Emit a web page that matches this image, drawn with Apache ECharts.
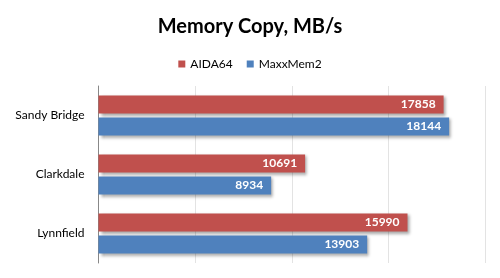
<!DOCTYPE html>
<html><head><meta charset="utf-8">
<script src="https://cdn.jsdelivr.net/npm/echarts@6/dist/echarts.min.js"></script>
<style>html,body{margin:0;padding:0;background:#fff}#c{width:500px;height:278px}</style>
</head><body><div id="c"></div>
<script>
const categories = ["Sandy Bridge", "Clarkdale", "Lynnfield"];
const seriesNames = ["AIDA64", "MaxxMem2"];
const aida64 = [17858, 10691, 15990];
const maxxmem2 = [18144, 8934, 13903];
const colors = ["#C0504D", "#4F81BD"];

const chart = echarts.init(document.getElementById('c'), null, {renderer: 'canvas'});
const font = 'Lato, "Open Sans", sans-serif';
function mk(name, data, color) {
  return {
    name: name, type: 'bar', data: data,
    barCategoryGap: '32%', barGap: '22%',
    itemStyle: {color: color, shadowColor: 'rgba(0,0,0,0.35)', shadowBlur: 3, shadowOffsetX: 2, shadowOffsetY: 2},
    label: {show: true, position: 'insideRight', color: '#fff', fontWeight: 'bold', fontSize: 12, fontFamily: font, distance: 8},
    emphasis: {disabled: true}
  };
}
chart.setOption({
  animation: false,
  title: {text: 'Memory Copy, MB/s', left: 'center', top: 12,
    textStyle: {fontFamily: font, fontWeight: 'bold', fontSize: 20, color: '#000'}},
  legend: {top: 53, left: 'center', itemWidth: 7, itemHeight: 7, itemGap: 14,
    icon: 'rect', textStyle: {fontFamily: font, fontSize: 12, color: '#000'}, data: seriesNames},
  grid: {left: 98.5, right: 15, top: 86, bottom: 15, containLabel: false},
  xAxis: {type: 'value', min: 0, max: 20000, interval: 5000,
    axisLabel: {show: false}, axisLine: {show: false}, axisTick: {show: false},
    splitLine: {show: true, lineStyle: {color: '#e3e3e3', width: 1}}},
  yAxis: {type: 'category', data: categories, inverse: true,
    axisLine: {show: true, lineStyle: {color: '#888', width: 1}}, axisTick: {show: false},
    axisLabel: {fontFamily: font, fontSize: 12, color: '#000', margin: 14}},
  series: [mk(seriesNames[0], aida64, colors[0]), mk(seriesNames[1], maxxmem2, colors[1])]
});
</script></body></html>
